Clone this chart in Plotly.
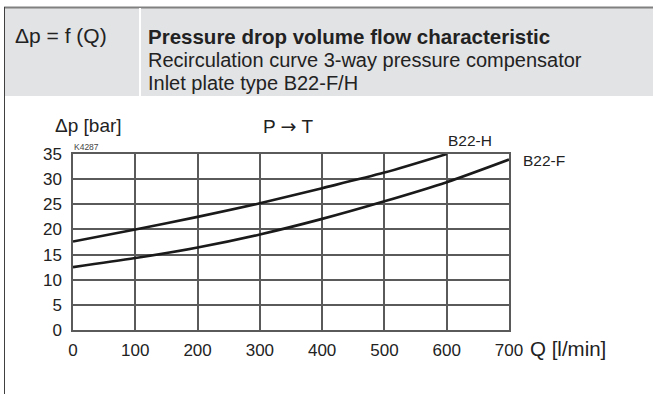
import plotly.graph_objects as go

# Data
q_b22_h = [0, 100, 200, 300, 400, 500, 600]
dp_b22_h = [17.6, 20.0, 22.5, 25.2, 28.2, 31.3, 35.0]
q_b22_f = [0, 100, 200, 300, 400, 500, 600, 700]
dp_b22_f = [12.5, 14.3, 16.4, 19.0, 22.1, 25.6, 29.4, 33.9]
x_ticks = [0, 100, 200, 300, 400, 500, 600, 700]
y_ticks = [0, 5, 10, 15, 20, 25, 30, 35]

W, H = 653, 394
L, R, T, B = 73, 144, 154, 64
PW, PH = W - L - R, H - T - B

def px(x):
    return (x - L) / PW

def py(y):
    return (H - B - y) / PH

FONT = "Liberation Sans, Arial, sans-serif"

fig = go.Figure()
fig.add_trace(go.Scatter(x=q_b22_h, y=dp_b22_h, mode="lines", name="B22-H",
                         line=dict(color="#1a1a1a", width=2.6, shape="spline", smoothing=0.8)))
fig.add_trace(go.Scatter(x=q_b22_f, y=dp_b22_f, mode="lines", name="B22-F",
                         line=dict(color="#1a1a1a", width=2.6, shape="spline", smoothing=0.8)))

grid = "#5a5a5a"
fig.update_xaxes(range=[0, 700], tickvals=x_ticks, showgrid=True, gridcolor=grid, gridwidth=1.5,
                 showline=True, linecolor=grid, linewidth=1.5, mirror=True, zeroline=False,
                 ticks="", tickfont=dict(size=17, color="#222", family=FONT), ticklabelstandoff=4)
fig.update_yaxes(range=[0, 35], tickvals=y_ticks, showgrid=True, gridcolor=grid, gridwidth=1.5,
                 showline=True, linecolor=grid, linewidth=1.5, mirror=True, zeroline=False,
                 ticks="", tickfont=dict(size=17, color="#222", family=FONT), ticklabelstandoff=6)

shapes = [
    dict(type="rect", xref="paper", yref="paper", x0=px(4), x1=px(653), y0=py(96), y1=py(8),
         fillcolor="#e2e3e5", line=dict(width=0), layer="below"),
    dict(type="line", xref="paper", yref="paper", x0=px(4), x1=px(653), y0=py(7.5), y1=py(7.5),
         line=dict(color="#808080", width=2)),
    dict(type="line", xref="paper", yref="paper", x0=px(4.5), x1=px(4.5), y0=py(7), y1=py(394),
         line=dict(color="#404040", width=1)),
    dict(type="line", xref="paper", yref="paper", x0=px(140), x1=px(140), y0=py(8), y1=py(96),
         line=dict(color="#ffffff", width=2)),
]

def ann(text, x, y, size, bold=False, xanchor="left", color="#222"):
    return dict(text=f"<b>{text}</b>" if bold else text, xref="paper", yref="paper",
                x=px(x), y=py(y), xanchor=xanchor, yanchor="middle", showarrow=False,
                font=dict(size=size, color=color, family=FONT))

annotations = [
    ann("Δp = f (Q)", 13, 35, 21),
    ann("Pressure drop volume flow characteristic", 146, 36, 20.5, bold=True),
    ann("Recirculation curve 3-way pressure compensator", 146, 60, 20),
    ann("Inlet plate type B22-F/H", 146, 83, 20),
    ann("Δp [bar]", 53, 126, 19),
    ann("P <span style=\"font-family:DejaVu Sans\">→</span> T", 261, 126, 19),
    ann("K4287", 72, 147, 8.5, color="#444"),
    ann("B22-H", 446, 141, 15.5),
    ann("B22-F", 521, 160, 15.5),
    ann("Q [l/min]", 528, 348, 20.5),
]

fig.update_layout(width=W, height=H, margin=dict(l=L, r=R, t=T, b=B),
                  paper_bgcolor="white", plot_bgcolor="white", showlegend=False,
                  shapes=shapes, annotations=annotations, font=dict(family=FONT))

fig.write_html("out.html", config={"displayModeBar": False},
               post_script="document.body.style.margin='0px';document.body.style.overflow='hidden';")
